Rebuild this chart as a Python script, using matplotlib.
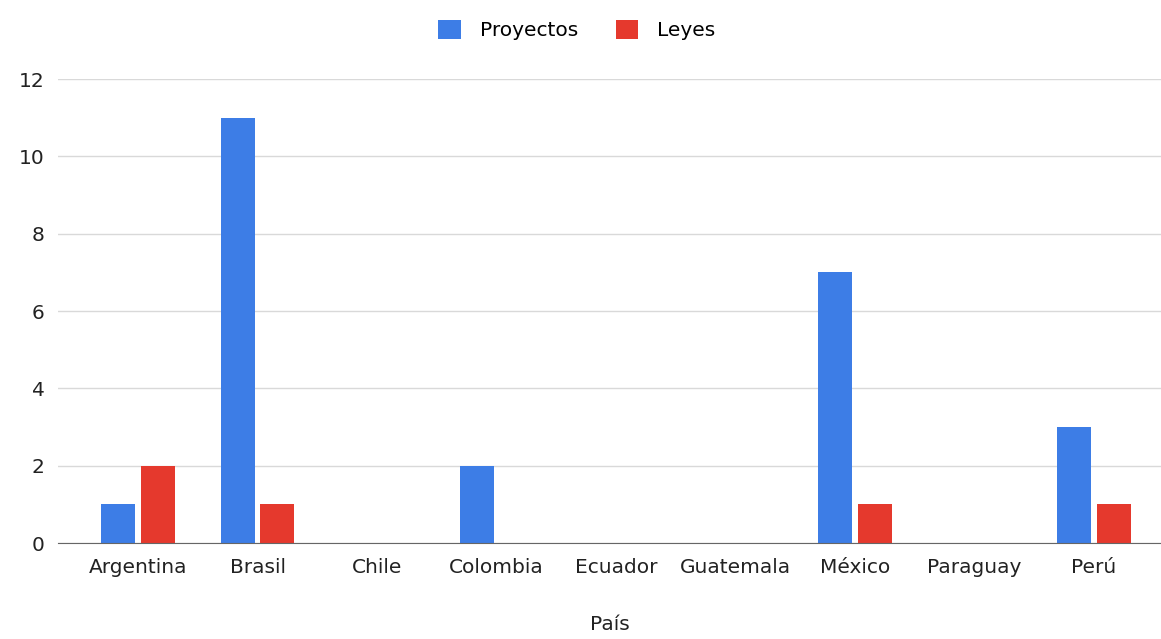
import numpy as np
import matplotlib.pyplot as plt

paises = ["Argentina", "Brasil", "Chile", "Colombia", "Ecuador",
          "Guatemala", "México", "Paraguay", "Perú"]
proyectos = [1, 11, 0, 2, 0, 0, 7, 0, 3]
leyes = [2, 1, 0, 0, 0, 0, 1, 0, 1]

plt.rcParams["font.family"] = ["DejaVu Sans"]

fig = plt.figure(figsize=(11.61, 6.39), dpi=100)
ax = fig.add_axes([0.05, 0.1502, 0.95, 0.726])

x = np.arange(len(paises))
w = 0.285
off = 0.167
ax.bar(x - off, proyectos, w, color="#3d7de6", label="Proyectos", zorder=3)
ax.bar(x + off, leyes, w, color="#e5392d", label="Leyes", zorder=3)

ax.set_xlim(-0.669, 8.56)
ax.set_ylim(0, 12)
ax.set_yticks(range(0, 13, 2))
ax.set_xticks(x)
ax.set_xticklabels(paises)
ax.tick_params(axis="both", length=0, labelsize=14.5, colors="#222222")
ax.tick_params(axis="x", pad=11)
ax.tick_params(axis="y", pad=9.5)
ax.grid(axis="y", color="#d9d9d9", linewidth=1, zorder=0)
for s in ["top", "right", "left"]:
    ax.spines[s].set_visible(False)
ax.spines["bottom"].set_color("#666666")
ax.spines["bottom"].set_zorder(4)

ax.set_xlabel("País", fontsize=14.5, color="#222222", labelpad=27)

fig.legend(loc="center", bbox_to_anchor=(0.497, 0.953), ncol=2, frameon=False,
           fontsize=14.5, handlelength=1.1, handleheight=1.1, columnspacing=1.9,
           handletextpad=0.95)

fig.savefig("out.png", dpi=100, facecolor="white")
